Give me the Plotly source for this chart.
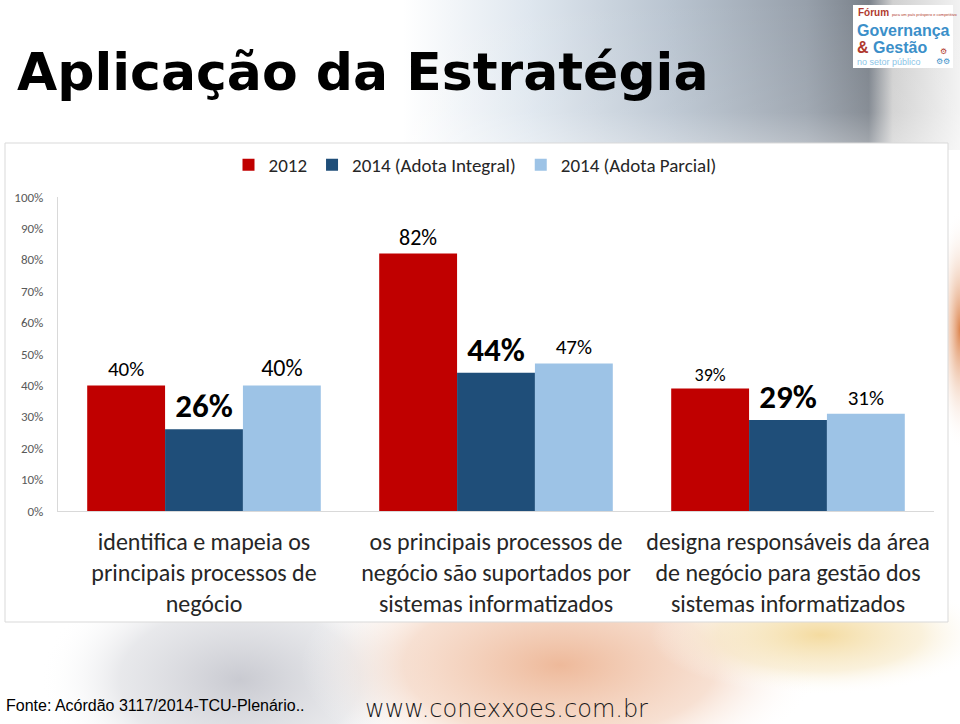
import base64
import plotly.graph_objects as go

# ---------------- data ----------------
categories = [
    "identifica e mapeia os<br>principais processos de<br>negócio",
    "os principais processos de<br>negócio são suportados por<br>sistemas informatizados",
    "designa responsáveis da área<br>de negócio para gestão dos<br>sistemas informatizados",
]
series_names = ["2012", "2014 (Adota Integral)", "2014 (Adota Parcial)"]
v2012 = [40, 82, 39]
v2014_integral = [26, 44, 29]
v2014_parcial = [40, 47, 31]
y_ticks = [0, 10, 20, 30, 40, 50, 60, 70, 80, 90, 100]
y_tick_text = [f"{v}%" for v in y_ticks]

colors = ["#C00000", "#1F4E79", "#9DC3E6"]
label_sizes = [[21, 22, 18], [33, 33, 33], [24, 21, 21]]
label_bold = [False, True, False]

W, H = 960, 724
L, R, T, B = 58, 26, 197, 213
pw, ph = W - L - R, H - T - B


def px(x):
    return (x - L) / pw


def py(y):
    return (H - B - y) / ph


FONT = "Carlito, Lato, 'Open Sans', sans-serif"

fig = go.Figure()
all_vals = [v2012, v2014_integral, v2014_parcial]
for i, (name, vals) in enumerate(zip(series_names, all_vals)):
    fig.add_trace(go.Bar(
        x=categories, y=vals, name=name,
        marker=dict(color=colors[i], line=dict(width=0)),
        text=[f"{v}%" for v in vals],
        textposition="outside",
        textfont=dict(family=FONT, size=label_sizes[i], color="#000000",
                      weight=700 if label_bold[i] else 400),
        cliponaxis=False,
    ))

# background svg (decorative slide gradients)
svg = f'''<svg xmlns="http://www.w3.org/2000/svg" width="{W}" height="{H}" viewBox="0 0 {W} {H}">
<defs>
<linearGradient id="hg" x1="0" y1="0" x2="1" y2="0">
<stop offset="0" stop-color="#ffffff"/>
<stop offset="0.42" stop-color="#ffffff"/>
<stop offset="0.55" stop-color="#dfe7ef"/>
<stop offset="0.70" stop-color="#b9c4d0"/>
<stop offset="0.84" stop-color="#97a0ab"/>
<stop offset="0.905" stop-color="#7a818a"/>
<stop offset="0.93" stop-color="#d0d0d0"/>
<stop offset="1" stop-color="#f2f2f2"/>
</linearGradient>
<linearGradient id="hv" x1="0" y1="0" x2="0" y2="1">
<stop offset="0" stop-color="#ffffff" stop-opacity="0"/>
<stop offset="0.75" stop-color="#ffffff" stop-opacity="0.1"/>
<stop offset="1" stop-color="#ffffff" stop-opacity="0.35"/>
</linearGradient>
<radialGradient id="g1" cx="0.5" cy="0.5" r="0.5">
<stop offset="0" stop-color="#c9cad1" stop-opacity="1"/>
<stop offset="0.6" stop-color="#dedfe3" stop-opacity="0.7"/>
<stop offset="1" stop-color="#ffffff" stop-opacity="0"/>
</radialGradient>
<radialGradient id="g2" cx="0.5" cy="0.5" r="0.5">
<stop offset="0" stop-color="#eeb99a" stop-opacity="1"/>
<stop offset="0.6" stop-color="#f4d3bf" stop-opacity="0.7"/>
<stop offset="1" stop-color="#ffffff" stop-opacity="0"/>
</radialGradient>
<radialGradient id="g3" cx="0.5" cy="0.5" r="0.5">
<stop offset="0" stop-color="#f4dba0" stop-opacity="1"/>
<stop offset="0.6" stop-color="#f7e8c4" stop-opacity="0.6"/>
<stop offset="1" stop-color="#ffffff" stop-opacity="0"/>
</radialGradient>
<radialGradient id="g4" cx="0.5" cy="0.5" r="0.5">
<stop offset="0" stop-color="#d9773a" stop-opacity="0.9"/>
<stop offset="1" stop-color="#ffffff" stop-opacity="0"/>
</radialGradient>
</defs>
<rect x="0" y="0" width="{W}" height="{H}" fill="#ffffff"/>
<rect x="0" y="0" width="{W}" height="150" fill="url(#hg)"/>
<rect x="0" y="0" width="{W}" height="150" fill="url(#hv)"/>
<ellipse cx="240" cy="680" rx="200" ry="120" fill="url(#g1)"/>
<ellipse cx="560" cy="665" rx="260" ry="120" fill="url(#g2)"/>
<ellipse cx="820" cy="635" rx="170" ry="60" fill="url(#g3)"/>
<ellipse cx="960" cy="330" rx="25" ry="120" fill="url(#g4)"/>
</svg>'''
src = "data:image/svg+xml;base64," + base64.b64encode(svg.encode()).decode()

fig.add_layout_image(dict(
    source=src, xref="paper", yref="paper",
    x=px(0), y=py(0), sizex=W / pw, sizey=H / ph,
    xanchor="left", yanchor="top", sizing="stretch", layer="below",
))

shapes = [
    # chart box
    dict(type="rect", xref="paper", yref="paper",
         x0=px(5), x1=px(948), y0=py(622), y1=py(143),
         fillcolor="#ffffff", line=dict(color="#d9d9d9", width=1), layer="below"),
    # logo box
    dict(type="rect", xref="paper", yref="paper",
         x0=px(853), x1=px(953), y0=py(68), y1=py(5),
         fillcolor="#ffffff", line=dict(width=0), layer="above"),
]

annotations = [
    dict(text="Aplicação da Estratégia", xref="paper", yref="paper",
         x=px(15), y=py(72), xanchor="left", yanchor="middle", showarrow=False,
         font=dict(family="'DejaVu Sans', sans-serif", size=52, color="#000000", weight=700)),
    dict(text="Fonte: Acórdão 3117/2014-TCU-Plenário..", xref="paper", yref="paper",
         x=px(4), y=py(705), xanchor="left", yanchor="middle", showarrow=False,
         font=dict(family="'Liberation Sans Narrow', 'Liberation Sans', Arial, sans-serif",
                   size=16, color="#000000")),
    dict(text="www.conexxoes.com.br", xref="paper", yref="paper",
         x=px(506), y=py(709), xanchor="center", yanchor="middle", showarrow=False,
         font=dict(family="'DejaVu Sans', sans-serif", size=24, color="#1a1a1a", weight=300)),
    # logo texts
    dict(text="<b>Fórum</b> <span style='font-size:4px'>para um país próspero e competitivo</span>",
         xref="paper", yref="paper", x=px(856), y=py(13), xanchor="left", yanchor="middle",
         showarrow=False, font=dict(family="'Liberation Sans', Arial", size=10, color="#b03a2e")),
    dict(text="<b>Governança</b>", xref="paper", yref="paper", x=px(855), y=py(30),
         xanchor="left", yanchor="middle", showarrow=False,
         font=dict(family="'Liberation Sans', Arial", size=16, color="#3b8fc9")),
    dict(text="<b><span style='color:#b03a2e'>&amp;</span> Gestão</b>", xref="paper", yref="paper",
         x=px(855), y=py(47), xanchor="left", yanchor="middle", showarrow=False,
         font=dict(family="'Liberation Sans', Arial", size=16, color="#3b8fc9")),
    dict(text="<span style='color:#b03a2e'>⚙</span><br>⚙⚙", xref="paper", yref="paper",
         x=px(943), y=py(56), xanchor="center", yanchor="middle", showarrow=False,
         font=dict(size=8, color="#3b8fc9")),
    dict(text="no setor público", xref="paper", yref="paper", x=px(855), y=py(62),
         xanchor="left", yanchor="middle", showarrow=False,
         font=dict(family="'Liberation Sans', Arial", size=9, color="#8cc4e6")),
]

fig.update_layout(
    width=W, height=H,
    margin=dict(l=L, r=R, t=T, b=B, autoexpand=False),
    paper_bgcolor="#ffffff",
    plot_bgcolor="rgba(0,0,0,0)",
    barmode="group", bargap=0.2, bargroupgap=0,
    font=dict(family=FONT, color="#262626"),
    showlegend=True,
    legend=dict(orientation="h", x=px(475), y=py(165), xanchor="center", yanchor="middle",
                font=dict(family=FONT, size=19, color="#262626"),
                itemwidth=30, traceorder="normal", bgcolor="rgba(0,0,0,0)"),
    shapes=shapes,
    annotations=annotations,
    xaxis=dict(showgrid=False, showline=True, linecolor="#d9d9d9", linewidth=1,
               ticks="", tickfont=dict(family=FONT, size=24, color="#262626"),
               ticklabelstandoff=9, fixedrange=True),
    yaxis=dict(range=[0, 100], tickmode="array", tickvals=y_ticks, ticktext=y_tick_text,
               showgrid=False, showline=True, linecolor="#d9d9d9", linewidth=1, ticks="",
               zeroline=False, tickfont=dict(family=FONT, size=13, color="#595959"),
               ticklabelstandoff=11, fixedrange=True),
)

fig.write_html("out.html")
